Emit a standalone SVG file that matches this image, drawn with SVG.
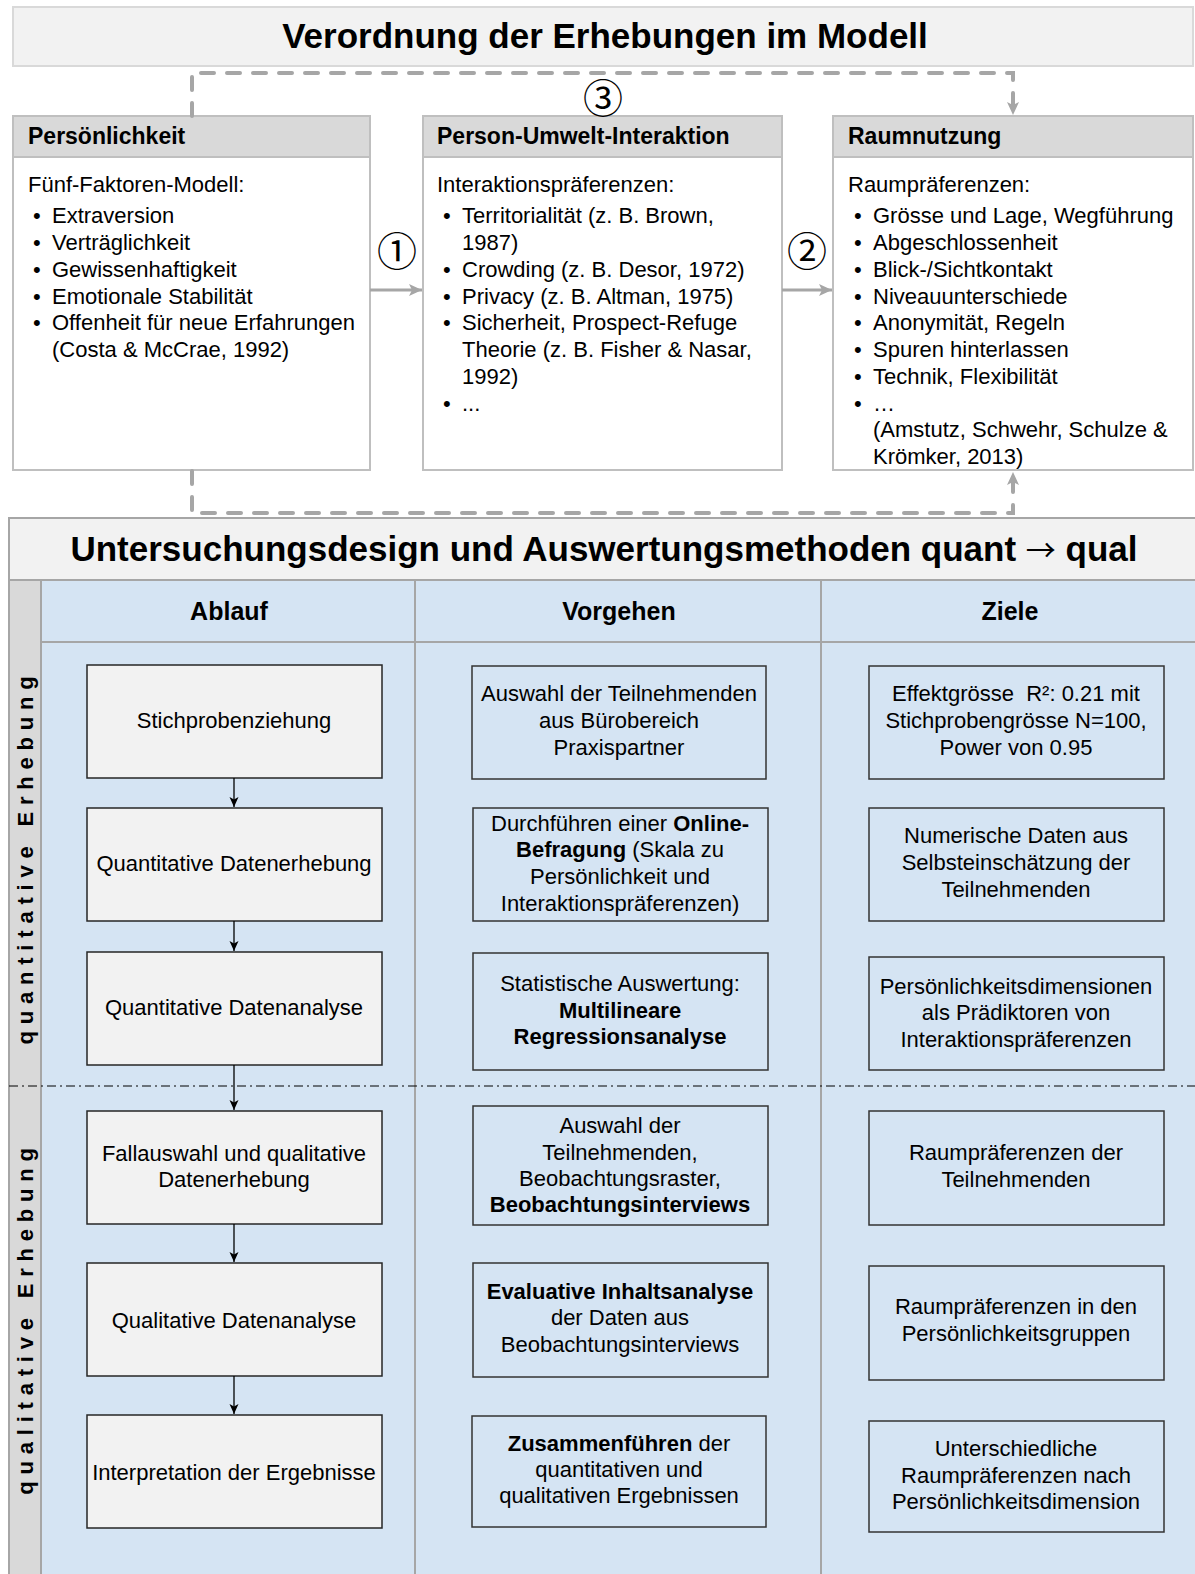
<svg xmlns="http://www.w3.org/2000/svg" width="1195" height="1574" viewBox="0 0 1195 1574">
  <style>
    text { font-family: "Liberation Sans", Arial, sans-serif; fill: #000; }
    .title { font-size: 35px; font-weight: bold; text-anchor: middle; }
    .hd { font-size: 23px; font-weight: bold; }
    .tx { font-size: 22px; }
    .c { font-size: 22px; text-anchor: middle; }
    .colhd { font-size: 25px; font-weight: bold; text-anchor: middle; }
    .b { font-weight: bold; }
    .num { font-family: "Noto Sans CJK JP", "DejaVu Sans", sans-serif; font-size: 40px; text-anchor: middle; }
    .arrowglyph { font-family: "Noto Sans CJK JP", "DejaVu Sans", sans-serif; font-weight: normal; font-size: 30px; }
    .vert { font-size: 22px; font-weight: bold; letter-spacing: 6.8px; text-anchor: middle; }
    .boxhead { fill: #d9d9d9; stroke: #bfbfbf; stroke-width: 2; }
    .boxbody { fill: #ffffff; stroke: #bfbfbf; stroke-width: 2; }
    .step { fill: #f2f2f2; stroke: #262626; stroke-width: 1.5; }
    .plain { fill: none; stroke: #333333; stroke-width: 1.5; }
    .grid { stroke: #a6a6a6; stroke-width: 2; fill: none; }
    .dash { fill: none; stroke: #a6a6a6; stroke-width: 4; stroke-dasharray: 13 13; stroke-linecap: round; }
    .garrow { fill: none; stroke: #a6a6a6; stroke-width: 3; }
    .flow { fill: none; stroke: #000; stroke-width: 1.3; }
  </style>
  <defs>
    <marker id="grayHead" markerWidth="14" markerHeight="14" refX="13" refY="7" orient="auto" markerUnits="userSpaceOnUse">
      <path d="M0,1 L13,7 L0,13 L3,7 z" fill="#a6a6a6"/>
    </marker>
    <marker id="blackHead" markerWidth="10" markerHeight="12" refX="10" refY="5" orient="auto" markerUnits="userSpaceOnUse">
      <path d="M0,0.5 L10,5 L0,9.5 L2.5,5 z" fill="#000"/>
    </marker>
  </defs>

  <rect width="1195" height="1574" fill="#ffffff"/>

  <!-- upper part: model -->
  <g id="model-title">
    <rect x="13" y="7" width="1180" height="59" fill="#f2f2f2" stroke="#d9d9d9" stroke-width="2"/>
    <text class="title" x="605" y="48">Verordnung der Erhebungen im Modell</text>
  </g>

  <g id="persoenlichkeit">
    <rect class="boxbody" x="13" y="116" width="357" height="354"/>
    <rect class="boxhead" x="13" y="116" width="357" height="41"/>
    <text class="hd" x="28" y="144">Persönlichkeit</text>
    <text class="tx" x="28" y="192">Fünf-Faktoren-Modell:</text>
    <text class="tx" x="33" y="223">•</text><text class="tx" x="52" y="223">Extraversion</text>
    <text class="tx" x="33" y="250">•</text><text class="tx" x="52" y="250">Verträglichkeit</text>
    <text class="tx" x="33" y="277">•</text><text class="tx" x="52" y="277">Gewissenhaftigkeit</text>
    <text class="tx" x="33" y="304">•</text><text class="tx" x="52" y="304">Emotionale Stabilität</text>
    <text class="tx" x="33" y="330">•</text><text class="tx" x="52" y="330">Offenheit für neue Erfahrungen</text>
    <text class="tx" x="52" y="357">(Costa &amp; McCrae, 1992)</text>
  </g>

  <g id="person-umwelt-interaktion">
    <rect class="boxbody" x="423" y="116" width="359" height="354"/>
    <rect class="boxhead" x="423" y="116" width="359" height="41"/>
    <text class="hd" x="437" y="144">Person-Umwelt-Interaktion</text>
    <text class="tx" x="437" y="192">Interaktionspräferenzen:</text>
    <text class="tx" x="443" y="223">•</text><text class="tx" x="462" y="223">Territorialität (z. B. Brown,</text>
    <text class="tx" x="462" y="250">1987)</text>
    <text class="tx" x="443" y="277">•</text><text class="tx" x="462" y="277">Crowding (z. B. Desor, 1972)</text>
    <text class="tx" x="443" y="304">•</text><text class="tx" x="462" y="304">Privacy (z. B. Altman, 1975)</text>
    <text class="tx" x="443" y="330">•</text><text class="tx" x="462" y="330">Sicherheit, Prospect-Refuge</text>
    <text class="tx" x="462" y="357">Theorie (z. B. Fisher &amp; Nasar,</text>
    <text class="tx" x="462" y="384">1992)</text>
    <text class="tx" x="443" y="411">•</text><text class="tx" x="462" y="411">...</text>
  </g>

  <g id="raumnutzung">
    <rect class="boxbody" x="833" y="116" width="360" height="354"/>
    <rect class="boxhead" x="833" y="116" width="360" height="41"/>
    <text class="hd" x="848" y="144">Raumnutzung</text>
    <text class="tx" x="848" y="192">Raumpräferenzen:</text>
    <text class="tx" x="854" y="223">•</text><text class="tx" x="873" y="223">Grösse und Lage, Wegführung</text>
    <text class="tx" x="854" y="250">•</text><text class="tx" x="873" y="250">Abgeschlossenheit</text>
    <text class="tx" x="854" y="277">•</text><text class="tx" x="873" y="277">Blick-/Sichtkontakt</text>
    <text class="tx" x="854" y="304">•</text><text class="tx" x="873" y="304">Niveauunterschiede</text>
    <text class="tx" x="854" y="330">•</text><text class="tx" x="873" y="330">Anonymität, Regeln</text>
    <text class="tx" x="854" y="357">•</text><text class="tx" x="873" y="357">Spuren hinterlassen</text>
    <text class="tx" x="854" y="384">•</text><text class="tx" x="873" y="384">Technik, Flexibilität</text>
    <text class="tx" x="854" y="411">•</text><text class="tx" x="873" y="411">…</text>
    <text class="tx" x="873" y="437">(Amstutz, Schwehr, Schulze &amp;</text>
    <text class="tx" x="873" y="464">Krömker, 2013)</text>
  </g>

  <g id="model-connectors">
    <line class="garrow" x1="370" y1="290" x2="422" y2="290" marker-end="url(#grayHead)"/>
    <line class="garrow" x1="782" y1="290" x2="832" y2="290" marker-end="url(#grayHead)"/>
    <path class="dash" d="M192,116 V73 H1013 V115" marker-end="url(#grayHead)"/>
    <path class="dash" d="M192,471 V513 H1013 V472" marker-end="url(#grayHead)"/>
    <text class="num" x="397" y="266">①</text>
    <text class="num" x="807" y="266">②</text>
    <text class="num" x="603" y="113">③</text>
  </g>

  <!-- lower part: study design table -->
  <g id="design-frame">
    <rect x="9" y="518" width="1190" height="1060" fill="#f2f2f2" stroke="#a6a6a6" stroke-width="2"/>
    <rect x="9" y="580" width="32" height="998" fill="#d9d9d9" stroke="#a6a6a6" stroke-width="2"/>
    <rect x="41" y="580" width="1158" height="998" fill="#d5e4f3"/>
    <line class="grid" x1="9" y1="580" x2="1199" y2="580"/>
    <line class="grid" x1="41" y1="580" x2="41" y2="1578"/>
    <line class="grid" x1="41" y1="642" x2="1199" y2="642"/>
    <line class="grid" x1="415" y1="580" x2="415" y2="1578"/>
    <line class="grid" x1="821" y1="580" x2="821" y2="1578"/>
    <line x1="9" y1="1086" x2="1199" y2="1086" stroke="#000" stroke-width="1" stroke-dasharray="9 4 2 4"/>
    <text class="title" x="604" y="561">Untersuchungsdesign und Auswertungsmethoden quant <tspan class="arrowglyph">→</tspan> qual</text>
    <text class="colhd" x="229" y="620">Ablauf</text>
    <text class="colhd" x="619" y="620">Vorgehen</text>
    <text class="colhd" x="1010" y="620">Ziele</text>
    <text class="vert" transform="translate(33,857) rotate(-90)">quantitative Erhebung</text>
    <text class="vert" transform="translate(33,1318) rotate(-90)">qualitative Erhebung</text>
  </g>

  <!-- Ablauf -->
  <g id="a1"><rect class="step" x="87" y="665" width="295" height="113"/><text class="c" x="234" y="728">Stichprobenziehung</text></g>
  <g id="a2"><rect class="step" x="87" y="808" width="295" height="113"/><text class="c" x="234" y="871">Quantitative Datenerhebung</text></g>
  <g id="a3"><rect class="step" x="87" y="952" width="295" height="113"/><text class="c" x="234" y="1015">Quantitative Datenanalyse</text></g>
  <g id="a4"><rect class="step" x="87" y="1111" width="295" height="113"/><text class="c" x="234" y="1161">Fallauswahl und qualitative</text><text class="c" x="234" y="1187">Datenerhebung</text></g>
  <g id="a5"><rect class="step" x="87" y="1263" width="295" height="113"/><text class="c" x="234" y="1328">Qualitative Datenanalyse</text></g>
  <g id="a6"><rect class="step" x="87" y="1415" width="295" height="113"/><text class="c" x="234" y="1480">Interpretation der Ergebnisse</text></g>

  <g id="flow-connectors">
    <line class="flow" x1="234" y1="778" x2="234" y2="807" marker-end="url(#blackHead)"/>
    <line class="flow" x1="234" y1="921" x2="234" y2="951" marker-end="url(#blackHead)"/>
    <line class="flow" x1="234" y1="1065" x2="234" y2="1110" marker-end="url(#blackHead)"/>
    <line class="flow" x1="234" y1="1224" x2="234" y2="1262" marker-end="url(#blackHead)"/>
    <line class="flow" x1="234" y1="1376" x2="234" y2="1414" marker-end="url(#blackHead)"/>
  </g>

  <!-- Vorgehen -->
  <g id="v1"><rect class="plain" x="472" y="666" width="294" height="113"/>
    <text class="c" x="619" y="701">Auswahl der Teilnehmenden</text>
    <text class="c" x="619" y="728">aus Bürobereich</text>
    <text class="c" x="619" y="755">Praxispartner</text></g>
  <g id="v2"><rect class="plain" x="473" y="808" width="295" height="113"/>
    <text class="c" x="620" y="831">Durchführen einer <tspan class="b">Online-</tspan></text>
    <text class="c" x="620" y="857"><tspan class="b">Befragung</tspan> (Skala zu</text>
    <text class="c" x="620" y="884">Persönlichkeit und</text>
    <text class="c" x="620" y="911">Interaktionspräferenzen)</text></g>
  <g id="v3"><rect class="plain" x="473" y="953" width="295" height="117"/>
    <text class="c" x="620" y="991">Statistische Auswertung:</text>
    <text class="c b" x="620" y="1018">Multilineare</text>
    <text class="c b" x="620" y="1044">Regressionsanalyse</text></g>
  <g id="v4"><rect class="plain" x="473" y="1106" width="295" height="119"/>
    <text class="c" x="620" y="1133">Auswahl der</text>
    <text class="c" x="620" y="1160">Teilnehmenden,</text>
    <text class="c" x="620" y="1186">Beobachtungsraster,</text>
    <text class="c b" x="620" y="1212">Beobachtungsinterviews</text></g>
  <g id="v5"><rect class="plain" x="473" y="1263" width="295" height="114"/>
    <text class="c b" x="620" y="1299">Evaluative Inhaltsanalyse</text>
    <text class="c" x="620" y="1325">der Daten aus</text>
    <text class="c" x="620" y="1352">Beobachtungsinterviews</text></g>
  <g id="v6"><rect class="plain" x="472" y="1416" width="294" height="111"/>
    <text class="c" x="619" y="1451"><tspan class="b">Zusammenführen</tspan> der</text>
    <text class="c" x="619" y="1477">quantitativen und</text>
    <text class="c" x="619" y="1503">qualitativen Ergebnissen</text></g>

  <!-- Ziele -->
  <g id="z1"><rect class="plain" x="869" y="666" width="295" height="113"/>
    <text class="c" x="1016" y="701" style="white-space:pre">Effektgrösse  R²: 0.21 mit</text>
    <text class="c" x="1016" y="728">Stichprobengrösse N=100,</text>
    <text class="c" x="1016" y="755">Power von 0.95</text></g>
  <g id="z2"><rect class="plain" x="869" y="808" width="295" height="113"/>
    <text class="c" x="1016" y="843">Numerische Daten aus</text>
    <text class="c" x="1016" y="870">Selbsteinschätzung der</text>
    <text class="c" x="1016" y="897">Teilnehmenden</text></g>
  <g id="z3"><rect class="plain" x="869" y="957" width="295" height="113"/>
    <text class="c" x="1016" y="994">Persönlichkeitsdimensionen</text>
    <text class="c" x="1016" y="1020">als Prädiktoren von</text>
    <text class="c" x="1016" y="1047">Interaktionspräferenzen</text></g>
  <g id="z4"><rect class="plain" x="869" y="1111" width="295" height="114"/>
    <text class="c" x="1016" y="1160">Raumpräferenzen der</text>
    <text class="c" x="1016" y="1187">Teilnehmenden</text></g>
  <g id="z5"><rect class="plain" x="869" y="1266" width="295" height="114"/>
    <text class="c" x="1016" y="1314">Raumpräferenzen in den</text>
    <text class="c" x="1016" y="1341">Persönlichkeitsgruppen</text></g>
  <g id="z6"><rect class="plain" x="869" y="1421" width="295" height="111"/>
    <text class="c" x="1016" y="1456">Unterschiedliche</text>
    <text class="c" x="1016" y="1483">Raumpräferenzen nach</text>
    <text class="c" x="1016" y="1509">Persönlichkeitsdimension</text></g>
</svg>
